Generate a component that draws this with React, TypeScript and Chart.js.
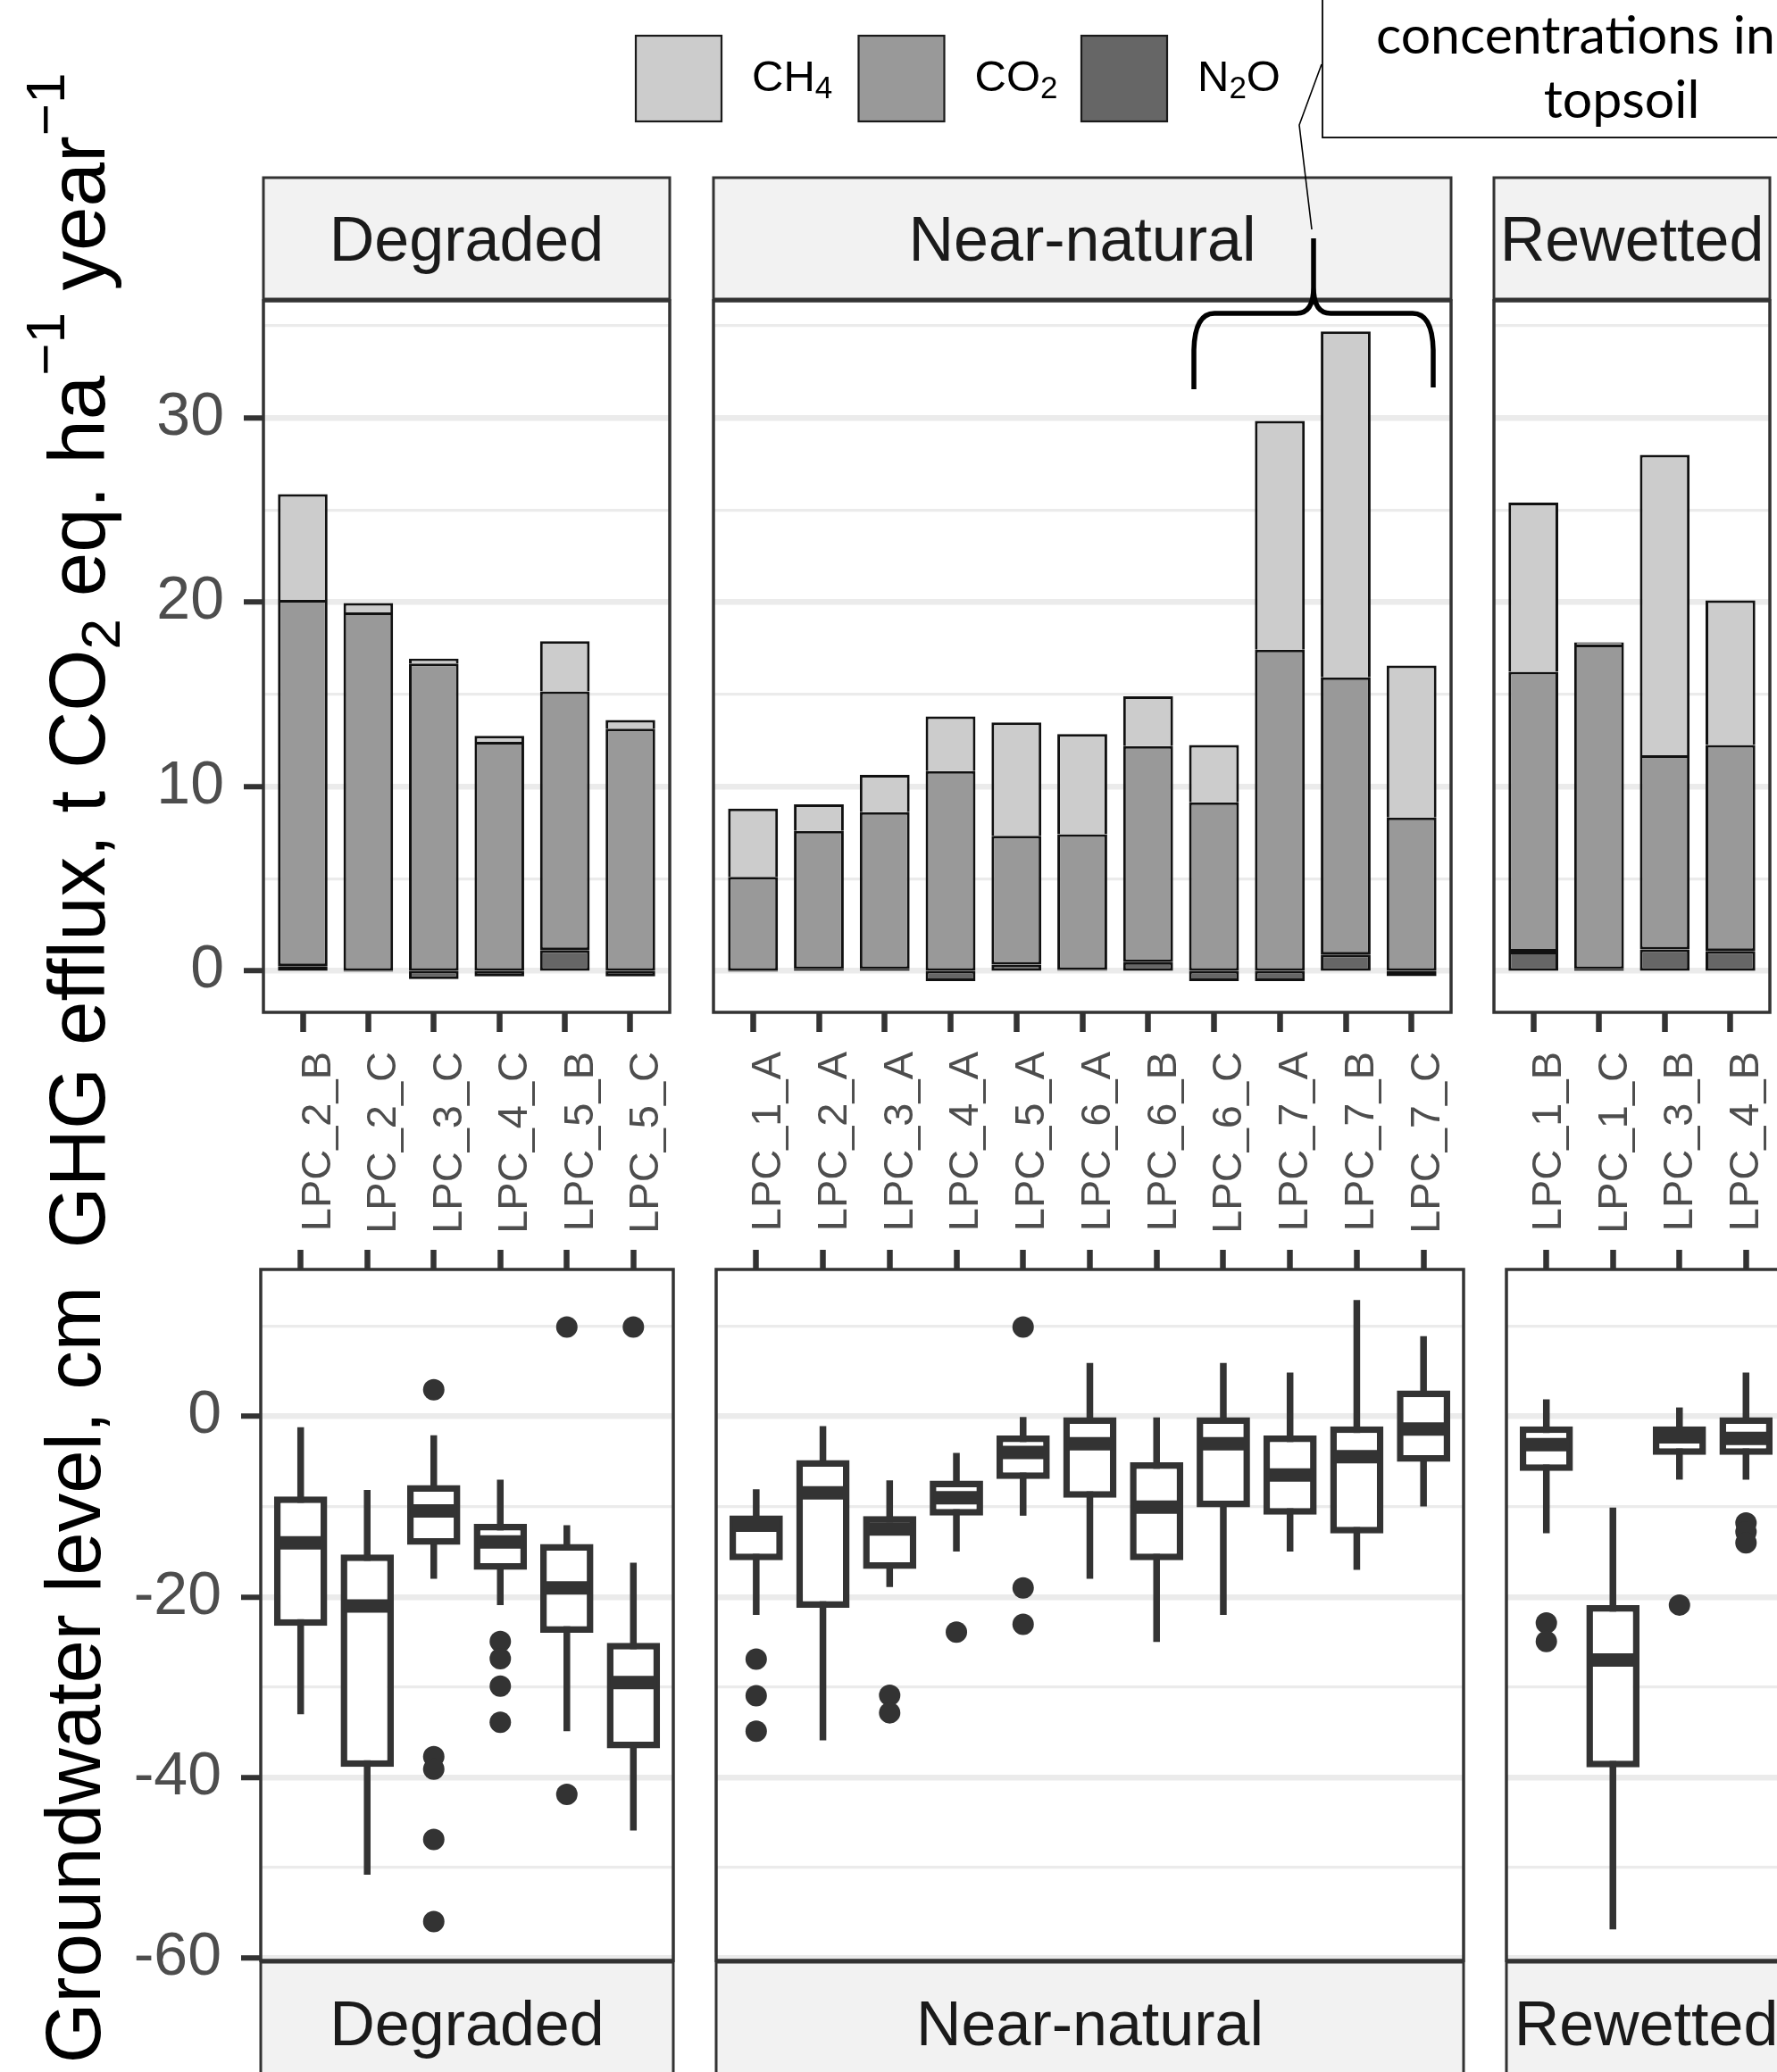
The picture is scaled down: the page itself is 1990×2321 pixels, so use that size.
import React, { useEffect, useRef } from "react";
import { Chart, registerables } from "chart.js";

Chart.register(...registerables);

const FONT = "'Liberation Sans', Arial, Helvetica, sans-serif";
Chart.defaults.font.family = FONT;

// ---------------- categories ----------------
const degradedSites = ["LPC_2_B", "LPC_2_C", "LPC_3_C", "LPC_4_C", "LPC_5_B", "LPC_5_C"];
const nearNaturalSites = ["LPC_1_A", "LPC_2_A", "LPC_3_A", "LPC_4_A", "LPC_5_A", "LPC_6_A", "LPC_6_B", "LPC_6_C", "LPC_7_A", "LPC_7_B", "LPC_7_C"];
const rewettedSites = ["LPC_1_B", "LPC_1_C", "LPC_3_B", "LPC_4_B"];
const groupNames = ["Degraded", "Near-natural", "Rewetted"];
const gasNames = ["CH4", "CO2", "N2O"];

// ---------------- GHG efflux, t CO2 eq. ha-1 year-1 ----------------
const degradedN2O = [0.26, -0.05, -0.45, -0.3, 1.13, -0.3];
const degradedCO2 = [19.87, 19.45, 16.68, 12.43, 14.03, 13.14];
const degradedCH4 = [5.73, 0.5, 0.26, 0.32, 2.72, 0.47];

const nearNaturalN2O = [-0.05, 0.1, 0.1, -0.55, 0.34, 0.05, 0.47, -0.55, -0.55, 0.89, -0.29];
const nearNaturalCO2 = [5.1, 7.49, 8.51, 10.84, 6.99, 7.36, 11.73, 9.14, 17.43, 15.03, 8.32];
const nearNaturalCH4 = [3.7, 1.44, 2.02, 2.96, 6.15, 5.44, 2.7, 3.11, 12.41, 18.77, 8.25];

const rewettedN2O = [1.04, 0.1, 1.16, 1.08];
const rewettedCO2 = [15.19, 17.6, 10.54, 11.18];
const rewettedCH4 = [9.17, 0.13, 16.3, 7.84];

// ---------------- groundwater level, cm (box plots) ----------------
const degradedLow = [-33.0, -50.8, -18.0, -20.9, -34.9, -45.9];
const degradedQ1 = [-23.2, -38.85, -14.23, -17.0, -23.97, -36.8];
const degradedMedian = [-14.0, -21.0, -10.46, -13.9, -19.0, -29.5];
const degradedQ3 = [-8.87, -15.3, -7.6, -11.9, -14.14, -25.1];
const degradedHigh = [-1.19, -8.14, -2.08, -7.0, -12.06, -16.2];
const degradedOutliers = [[], [], [2.97, -37.7, -39.1, -46.9, -56.0], [-24.95, -26.85, -29.9, -33.9], [9.92, -41.9], [9.92]];

const nearNaturalLow = [-22.0, -35.9, -18.9, -14.97, -11.0, -18.0, -25.0, -22.0, -14.97, -16.99, -9.98];
const nearNaturalQ1 = [-15.95, -21.2, -16.9, -11.0, -6.92, -9.0, -15.95, -10.07, -10.9, -12.98, -5.02];
const nearNaturalMedian = [-12.06, -8.47, -12.47, -9.0, -4.0, -3.03, -10.04, -3.03, -6.48, -4.46, -1.4];
const nearNaturalQ3 = [-10.96, -4.84, -11.05, -7.1, -2.1, -0.09, -5.08, -0.09, -2.1, -1.1, 2.88];
const nearNaturalHigh = [-8.08, -1.07, -7.07, -4.04, -0.06, 5.94, -0.1, 5.94, 4.87, 12.9, 8.91];
const nearNaturalOutliers = [[-26.9, -30.95, -34.9], [], [-30.9, -32.85], [-23.9], [9.92, -19.0, -23.05], [], [], [], [], [], []];

const rewettedLow = [-12.95, -56.85, -7.0, -7.0];
const rewettedQ1 = [-6.03, -38.9, -4.25, -4.25];
const rewettedMedian = [-3.12, -27.0, -2.25, -2.44];
const rewettedQ3 = [-1.1, -20.9, -1.1, -0.09];
const rewettedHigh = [1.9, -10.1, 1.0, 4.87];
const rewettedOutliers = [[-22.9, -24.95], [], [-20.9], [-11.8, -12.8, -14.0]];

// ---------------- axes ----------------
const ghgTicks = [0, 5, 10, 15, 20, 25, 30, 35];
const ghgRange = [-2.25, 36.35];
const gwlTicks = [-60, -50, -40, -30, -20, -10, 0, 10];
const gwlRange = [-60.3, 16.3];

// ---------------- styling / layout ----------------
const CH4_FILL = "#CCCCCC";
const CO2_FILL = "#999999";
const N2O_FILL = "#666666";
const INK = "#333333";
const GRID = "#EBEBEB";
const AXIS_TEXT = "#4D4D4D";
const STRIP_FILL = "#F2F2F2";
const STRIP_H = 136;

const BAR_TOP = 337;
const BAR_BOTTOM = 1134;
const BOX_TOP = 1422;
const BOX_BOTTOM = 2196;

const barCanvases = [
  { left: 0, top: 0, width: 800, height: 1420, l: 295, r: 750 },
  { left: 700, top: 0, width: 1290, height: 1420, l: 799, r: 1625 },
  { left: 1640, top: 150, width: 400, height: 1270, l: 1673, r: 1982 },
];
const boxCanvases = [
  { left: 0, top: 1330, width: 790, height: 991, l: 292, r: 754 },
  { left: 770, top: 1330, width: 900, height: 991, l: 802, r: 1639 },
  { left: 1660, top: 1330, width: 400, height: 991, l: 1687, r: 2000 },
];
const allCanvases = [...barCanvases, ...boxCanvases];

type Seg = { t: string; size: number; dy: number };

function richText(ctx: any, segs: Seg[], x: number, y: number, align: string, rotate: boolean, color: string, family = FONT) {
  ctx.save();
  ctx.translate(x, y);
  if (rotate) ctx.rotate(-Math.PI / 2);
  ctx.fillStyle = color;
  ctx.textAlign = "left";
  ctx.textBaseline = "alphabetic";
  const widths = segs.map((s) => {
    ctx.font = `${s.size}px ${family}`;
    return ctx.measureText(s.t).width;
  });
  const total = widths.reduce((a, b) => a + b, 0);
  let cx = align === "center" ? -total / 2 : 0;
  segs.forEach((s, i) => {
    ctx.font = `${s.size}px ${family}`;
    ctx.fillText(s.t, cx, s.dy);
    cx += widths[i];
  });
  ctx.restore();
}

function chemSegs(name: string, size: number, subSize: number, subDy: number): Seg[] {
  const out: Seg[] = [];
  for (const ch of name) {
    const isSub = /[0-9]/.test(ch);
    const last = out[out.length - 1];
    if (last && (last.size === subSize) === isSub) last.t += ch;
    else out.push({ t: ch, size: isSub ? subSize : size, dy: isSub ? subDy : 0 });
  }
  return out;
}

function decorPlugin(strip: string, stripAtTop: boolean, extra?: (ctx: any, chart: any) => void) {
  return {
    id: "decor",
    afterDraw(chart: any) {
      const ctx = chart.ctx;
      const a = chart.chartArea;
      const w = a.right - a.left;
      ctx.save();
      const sy = stripAtTop ? a.top - 2 - STRIP_H : a.bottom + 2;
      ctx.fillStyle = STRIP_FILL;
      ctx.fillRect(a.left, sy, w, STRIP_H);
      ctx.lineWidth = 3;
      ctx.strokeStyle = INK;
      ctx.strokeRect(a.left, sy, w, STRIP_H);
      ctx.fillStyle = "#1A1A1A";
      ctx.font = `70px ${FONT}`;
      ctx.textAlign = "center";
      ctx.textBaseline = "alphabetic";
      ctx.fillText(strip, a.left + w / 2, sy + STRIP_H / 2 + 25);
      ctx.lineWidth = 3.5;
      ctx.strokeStyle = INK;
      ctx.strokeRect(a.left, a.top, w, a.bottom - a.top);
      ctx.restore();
      if (extra) extra(ctx, chart);
    },
  };
}

function drawGhgTitle(ctx: any, ox: number, oy: number) {
  const segs: Seg[] = [
    { t: "GHG efflux, t CO", size: 89, dy: 0 },
    { t: "2", size: 62, dy: 17 },
    { t: " eq. ha", size: 89, dy: 0 },
    { t: "\u22121", size: 62, dy: -45 },
    { t: " year", size: 89, dy: 0 },
    { t: "\u22121", size: 62, dy: -45 },
  ];
  richText(ctx, segs, 117 - ox, 740 - oy, "center", true, "#000");
}

function drawGwlTitle(ctx: any, ox: number, oy: number) {
  richText(ctx, [{ t: "Groundwater level, cm", size: 87, dy: 0 }], 112 - ox, 1876 - oy, "center", true, "#000");
}

function drawAnnotations(ctx: any, ox: number, oy: number) {
  ctx.save();
  ctx.translate(-ox, -oy);
  // legend
  const fills = [CH4_FILL, CO2_FILL, N2O_FILL];
  gasNames.forEach((g, i) => {
    const kx = 712 + i * 249.5;
    ctx.fillStyle = fills[i];
    ctx.fillRect(kx, 40, 96, 96);
    ctx.lineWidth = 2.2;
    ctx.strokeStyle = "#1A1A1A";
    ctx.strokeRect(kx, 40, 96, 96);
    richText(ctx, chemSegs(g, 49, 35, 8), kx + 130, 102, "left", false, "#000");
  });
  // callout box
  ctx.fillStyle = "#FFFFFF";
  ctx.fillRect(1481, -20, 700, 174);
  ctx.lineWidth = 1.8;
  ctx.strokeStyle = "#000";
  ctx.strokeRect(1481, -20, 700, 174);
  ctx.fillStyle = "#000";
  ctx.font = "59px Lato, 'Open Sans', sans-serif";
  ctx.textBaseline = "alphabetic";
  ctx.textAlign = "left";
  ctx.fillText("concentrations in", 1541, 60);
  ctx.textAlign = "center";
  ctx.fillText("topsoil", 1816, 132);
  // connector
  ctx.beginPath();
  ctx.moveTo(1480, 72);
  ctx.lineTo(1455, 140);
  ctx.lineTo(1469, 257);
  ctx.lineWidth = 1.6;
  ctx.stroke();
  // curly brace
  ctx.lineWidth = 5.5;
  ctx.lineJoin = "round";
  ctx.beginPath();
  ctx.moveTo(1337, 436);
  ctx.lineTo(1337, 392);
  ctx.quadraticCurveTo(1338, 351, 1360, 351);
  ctx.lineTo(1452, 351);
  ctx.quadraticCurveTo(1471, 351, 1471, 322);
  ctx.lineTo(1471, 267);
  ctx.moveTo(1471, 322);
  ctx.quadraticCurveTo(1471, 351, 1490, 351);
  ctx.lineTo(1582, 351);
  ctx.quadraticCurveTo(1604, 351, 1605, 392);
  ctx.lineTo(1605, 434);
  ctx.stroke();
  ctx.restore();
}

// visible value axis (labels, tick marks, grid); the data axis "y" stays hidden so bars start exactly at 0
function valueAxis(range: number[], ticks: number[], majorStep: number, width: number, isLeft: boolean) {
  return {
    type: "linear",
    position: "left",
    min: range[0],
    max: range[1],
    afterBuildTicks: (s: any) => {
      s.ticks = ticks.map((v) => ({ value: v }));
    },
    afterFit: (s: any) => {
      s.width = width;
    },
    border: { display: false },
    grid: {
      color: GRID,
      lineWidth: (c: any) => (c.tick && c.tick.value % majorStep === 0 ? 6.5 : 3.3),
      drawTicks: isLeft,
      tickLength: 22,
      tickWidth: 6,
      tickColor: (c: any) => (c.tick && c.tick.value % majorStep === 0 ? INK : "rgba(0,0,0,0)"),
    },
    ticks: {
      display: isLeft,
      autoSkip: false,
      padding: 22,
      color: AXIS_TEXT,
      font: { family: FONT, size: 68 },
      callback: (v: any) => (v % majorStep === 0 ? String(v) : ""),
    },
  };
}

function barConfig(sites: string[], n2o: number[], co2: number[], ch4: number[], geo: any, strip: string, isLeft: boolean, extra?: any) {
  const pts = (arr: number[]) => arr.map((v, i) => ({ x: i, y: v }));
  const yWidth = isLeft ? geo.l - geo.left : 0;
  const padding = {
    left: geo.l - geo.left - yWidth,
    top: BAR_TOP - geo.top,
    right: geo.left + geo.width - geo.r,
    bottom: 0,
  };
  const xHeight = geo.top + geo.height - BAR_BOTTOM;
  const common = { borderColor: "#111111", borderWidth: 3 };
  return {
    type: "bar",
    data: {
      datasets: [
        { label: gasNames[2], data: pts(n2o), backgroundColor: N2O_FILL, borderSkipped: false, ...common },
        { label: gasNames[1], data: pts(co2), backgroundColor: CO2_FILL, borderSkipped: false, ...common },
        { label: gasNames[0], data: pts(ch4), backgroundColor: CH4_FILL, borderSkipped: "start", ...common },
      ],
    },
    options: {
      responsive: false,
      animation: false,
      devicePixelRatio: 1,
      events: [],
      layout: { padding, autoPadding: false },
      datasets: { bar: { categoryPercentage: 1, barPercentage: 0.757 } },
      plugins: { legend: { display: false }, tooltip: { enabled: false }, title: { display: false } },
      scales: {
        x: {
          type: "linear",
          min: -0.6,
          max: sites.length - 0.4,
          stacked: true,
          offset: false,
          afterBuildTicks: (s: any) => {
            s.ticks = sites.map((_, i) => ({ value: i }));
          },
          afterFit: (s: any) => {
            s.height = xHeight;
          },
          border: { display: false },
          grid: { display: true, offset: false, drawOnChartArea: false, drawTicks: true, tickLength: 22, tickWidth: 6.5, tickColor: INK },
          ticks: {
            autoSkip: false,
            minRotation: 90,
            maxRotation: 90,
            padding: 22,
            labelOffset: 18,
            color: AXIS_TEXT,
            font: { family: FONT, size: 47 },
            callback: (v: any) => sites[v] ?? "",
          },
        },
        y: { type: "linear", display: false, min: ghgRange[0], max: ghgRange[1], stacked: true },
        yAxis: valueAxis(ghgRange, ghgTicks, 10, yWidth, isLeft),
      },
    },
    plugins: [decorPlugin(strip, true, extra)],
  };
}

function boxConfig(sites: string[], low: number[], q1: number[], med: number[], q3: number[], high: number[], outliers: number[][], geo: any, strip: string, isLeft: boolean, extra?: any) {
  const yWidth = isLeft ? geo.l - geo.left : 0;
  const xHeight = 22;
  const padding = {
    left: geo.l - geo.left - yWidth,
    top: BOX_TOP - geo.top - xHeight,
    right: geo.left + geo.width - geo.r,
    bottom: geo.top + geo.height - BOX_BOTTOM,
  };
  return {
    type: "bar",
    data: {
      datasets: [
        {
          type: "bar",
          label: "whisker",
          data: low.map((v, i) => ({ x: i, y: [v, high[i]] })),
          backgroundColor: INK,
          borderWidth: 0,
          grouped: false,
          maxBarThickness: 7.5,
          order: 4,
        },
        {
          type: "bar",
          label: "box",
          data: q1.map((v, i) => ({ x: i, y: [v, q3[i]] })),
          backgroundColor: "#FFFFFF",
          borderColor: INK,
          borderWidth: 7.5,
          borderSkipped: false,
          grouped: false,
          categoryPercentage: 1,
          barPercentage: 0.8,
          order: 3,
        },
        {
          type: "scatter",
          label: "median",
          data: med.map((v, i) => ({ x: i, y: v })),
          pointStyle: "line",
          pointRadius: 26,
          pointBorderWidth: 15,
          pointBorderColor: INK,
          pointBackgroundColor: INK,
          order: 2,
        },
        {
          type: "scatter",
          label: "outliers",
          data: outliers.flatMap((arr, i) => arr.map((v) => ({ x: i, y: v }))),
          pointStyle: "circle",
          pointRadius: 12,
          pointBorderWidth: 0,
          pointBackgroundColor: INK,
          order: 1,
        },
      ],
    },
    options: {
      responsive: false,
      animation: false,
      devicePixelRatio: 1,
      events: [],
      layout: { padding, autoPadding: false },
      plugins: { legend: { display: false }, tooltip: { enabled: false }, title: { display: false } },
      scales: {
        x: {
          type: "linear",
          position: "top",
          min: -0.6,
          max: sites.length - 0.4,
          offset: false,
          afterBuildTicks: (s: any) => {
            s.ticks = sites.map((_, i) => ({ value: i }));
          },
          afterFit: (s: any) => {
            s.height = xHeight;
          },
          border: { display: false },
          grid: { display: true, offset: false, drawOnChartArea: false, drawTicks: true, tickLength: 22, tickWidth: 6.5, tickColor: INK },
          ticks: { display: false },
        },
        y: { type: "linear", display: false, min: gwlRange[0], max: gwlRange[1] },
        yAxis: valueAxis(gwlRange, gwlTicks, 20, yWidth, isLeft),
      },
    },
    plugins: [decorPlugin(strip, false, extra)],
  };
}

function buildConfigs() {
  const b = barCanvases;
  const x = boxCanvases;
  return [
    barConfig(degradedSites, degradedN2O, degradedCO2, degradedCH4, b[0], groupNames[0], true, (ctx: any) => drawGhgTitle(ctx, b[0].left, b[0].top)),
    barConfig(nearNaturalSites, nearNaturalN2O, nearNaturalCO2, nearNaturalCH4, b[1], groupNames[1], false, (ctx: any) => drawAnnotations(ctx, b[1].left, b[1].top)),
    barConfig(rewettedSites, rewettedN2O, rewettedCO2, rewettedCH4, b[2], groupNames[2], false),
    boxConfig(degradedSites, degradedLow, degradedQ1, degradedMedian, degradedQ3, degradedHigh, degradedOutliers, x[0], groupNames[0], true, (ctx: any) => drawGwlTitle(ctx, x[0].left, x[0].top)),
    boxConfig(nearNaturalSites, nearNaturalLow, nearNaturalQ1, nearNaturalMedian, nearNaturalQ3, nearNaturalHigh, nearNaturalOutliers, x[1], groupNames[1], false),
    boxConfig(rewettedSites, rewettedLow, rewettedQ1, rewettedMedian, rewettedQ3, rewettedHigh, rewettedOutliers, x[2], groupNames[2], false),
  ];
}

export default function App() {
  const refs = useRef<(HTMLCanvasElement | null)[]>([]);
  useEffect(() => {
    const charts: any[] = [];
    const configs = buildConfigs();
    configs.forEach((cfg, i) => {
      const c = refs.current[i];
      if (c) charts.push(new Chart(c, cfg as any));
    });
    return () => {
      charts.forEach((ch) => ch.destroy());
    };
  }, []);
  return (
    <div style={{ position: "absolute", left: 0, top: 0, width: 1990, height: 2321, overflow: "hidden", background: "#FFFFFF" }}>
      {allCanvases.map((p, i) => (
        <canvas
          key={i}
          ref={(el) => {
            refs.current[i] = el;
          }}
          width={p.width}
          height={p.height}
          style={{ position: "absolute", left: p.left, top: p.top, width: p.width, height: p.height }}
        />
      ))}
    </div>
  );
}
